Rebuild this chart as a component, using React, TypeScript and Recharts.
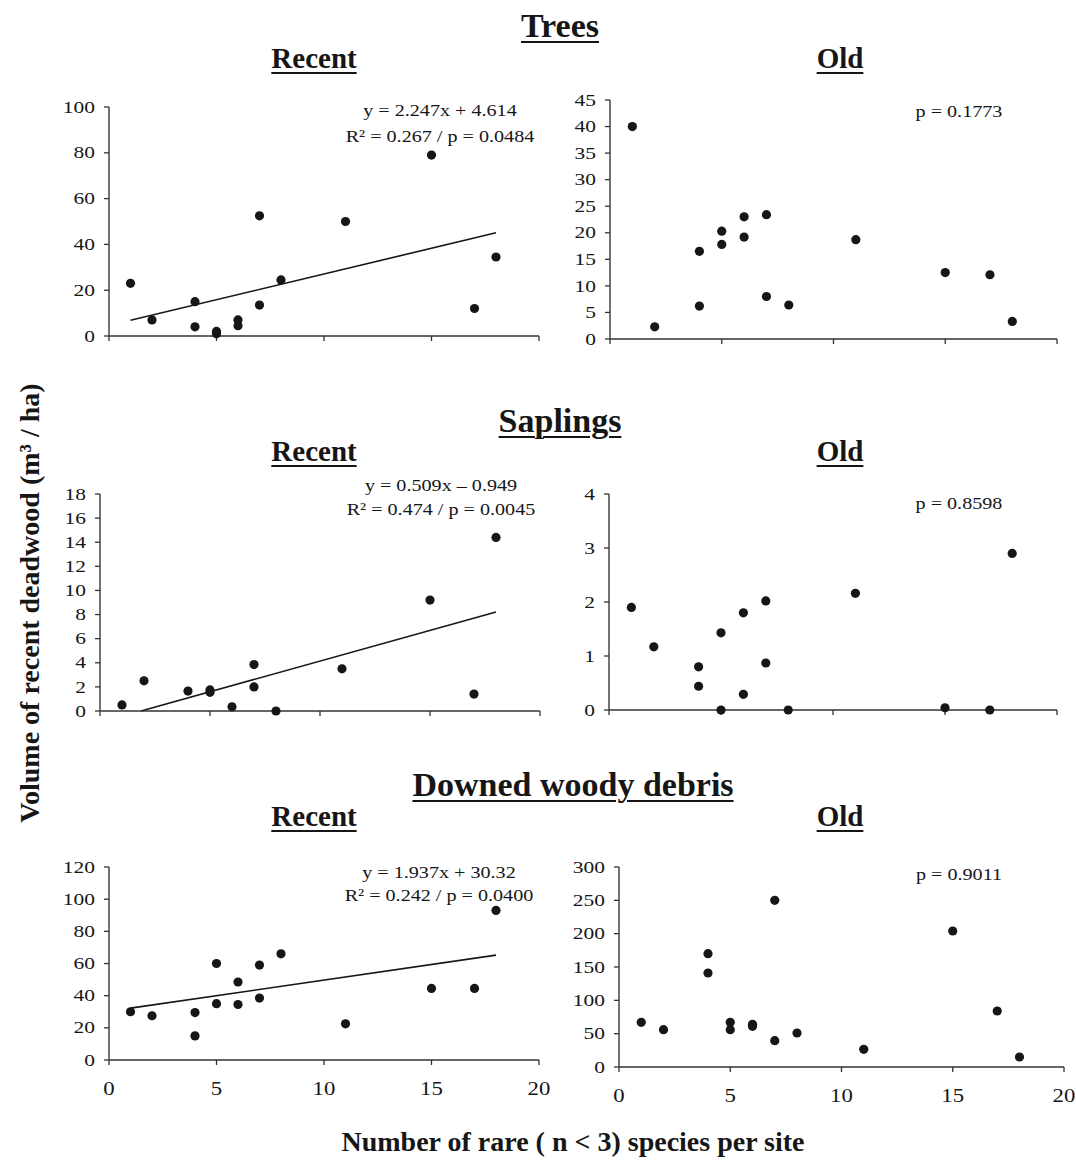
import { ScatterChart, Scatter, XAxis, YAxis, ReferenceLine } from "recharts";

const SERIF = '"Liberation Serif", "Times New Roman", serif';
const INK = "#161616";

// number of rare species (n < 3) per site, shared by most panels
const rareSpecies = [1, 2, 4, 4, 5, 5, 6, 6, 7, 7, 8, 11, 15, 17, 18];
const saplingsRecentX = [1, 2, 4, 5, 5, 6, 7, 7, 8, 11, 15, 17, 18];

// volume of recent deadwood (m3 / ha)
const treesRecent = [23, 7, 15, 4, 2, 1, 7, 4.5, 52.5, 13.5, 24.5, 50, 79, 12, 34.5];
const treesOld = [40, 2.3, 16.5, 6.2, 20.3, 17.8, 23, 19.2, 23.4, 8, 6.4, 18.7, 12.5, 12.1, 3.3];
const saplingsRecent = [0.5, 2.5, 1.65, 1.75, 1.55, 0.35, 3.85, 2, 0, 3.5, 9.2, 1.4, 14.4];
const saplingsOld = [1.9, 1.17, 0.8, 0.44, 1.43, 0, 1.8, 0.29, 2.02, 0.87, 0, 2.16, 0.04, 0, 2.9];
const debrisRecent = [30, 27.5, 29.5, 15, 60, 35, 48.5, 34.5, 59, 38.5, 66, 22.5, 44.5, 44.5, 93];
const debrisOld = [67, 56, 170, 141, 67, 56, 64, 61, 250, 39.5, 51, 26.5, 204, 84, 15];

// axis ticks
const xTicks = [0, 5, 10, 15, 20];
const treesRecentTicks = [0, 20, 40, 60, 80, 100];
const treesOldTicks = [0, 5, 10, 15, 20, 25, 30, 35, 40, 45];
const saplingsRecentTicks = [0, 2, 4, 6, 8, 10, 12, 14, 16, 18];
const saplingsOldTicks = [0, 1, 2, 3, 4];
const debrisRecentTicks = [0, 20, 40, 60, 80, 100, 120];
const debrisOldTicks = [0, 50, 100, 150, 200, 250, 300];

// regression fits (recent stands)
const treesFit = { slope: 2.247, intercept: 4.614 };
const saplingsFit = { slope: 0.509, intercept: -0.949 };
const debrisFit = { slope: 1.937, intercept: 30.32 };

const treesRecentNote = ["y = 2.247x + 4.614", "R² = 0.267 / p = 0.0484"];
const saplingsRecentNote = ["y = 0.509x – 0.949", "R² = 0.474 / p = 0.0045"];
const debrisRecentNote = ["y = 1.937x + 30.32", "R² = 0.242 / p = 0.0400"];

const YTick = ({ x, y, payload }: any) => (
  <g transform={`translate(${x},${y})`}>
    <text
      textAnchor="end"
      dy="0.34em"
      fontSize={16.5}
      fontFamily={SERIF}
      fill={INK}
      transform="scale(1.3,1)"
    >
      {payload.value}
    </text>
  </g>
);

const XTick = ({ x, y, payload }: any) => (
  <g transform={`translate(${x},${y})`}>
    <text
      textAnchor="middle"
      dy="0.7em"
      fontSize={19}
      fontFamily={SERIF}
      fill={INK}
      transform="scale(1.2,1)"
    >
      {payload.value}
    </text>
  </g>
);

const NoTick = () => <g />;

const Dot = (p: any) => <circle cx={p.cx} cy={p.cy} r={4.6} fill={INK} />;

interface Box {
  left: number;
  top: number;
  width: number;
  height: number;
}

interface PanelProps {
  xs: number[];
  ys: number[];
  yTicks: number[];
  box: Box;
  xLabels?: boolean;
  fit?: { slope: number; intercept: number };
}

function Panel({ xs, ys, yTicks, box, xLabels = false, fit }: PanelProps) {
  const data = xs.map((x, i) => ({ x, y: ys[i] }));
  const yMax = yTicks[yTicks.length - 1];
  let seg: { x: number; y: number }[] | null = null;
  if (fit) {
    const lo = Math.max(Math.min(...xs), -fit.intercept / fit.slope);
    const hi = Math.max(...xs);
    seg = [
      { x: lo, y: fit.slope * lo + fit.intercept },
      { x: hi, y: fit.slope * hi + fit.intercept },
    ];
  }
  const axisW = 70;
  return (
    <div style={{ position: "absolute", left: box.left - axisW, top: box.top - 10 }}>
      <ScatterChart
        width={box.width + axisW + 30}
        height={box.height + 10 + 40}
        margin={{ top: 10, right: 30, left: 0, bottom: 0 }}
      >
        <XAxis
          type="number"
          dataKey="x"
          domain={[0, 20]}
          ticks={xTicks}
          interval={0}
          height={40}
          axisLine={{ stroke: "#333", strokeWidth: 1.5 }}
          tickLine={{ stroke: "#333", strokeWidth: 1.3 }}
          tickSize={5}
          tickMargin={xLabels ? 17 : 0}
          tick={xLabels ? <XTick /> : <NoTick />}
        />
        <YAxis
          type="number"
          dataKey="y"
          domain={[0, yMax]}
          ticks={yTicks}
          interval={0}
          width={axisW}
          axisLine={{ stroke: "#444", strokeWidth: 1.5 }}
          tickLine={{ stroke: "#333", strokeWidth: 1.3 }}
          tickSize={5}
          tickMargin={9}
          tick={<YTick />}
        />
        {seg && (
          <ReferenceLine segment={seg} stroke={INK} strokeWidth={1.6} />
        )}
        <Scatter data={data} shape={<Dot />} isAnimationActive={false} />
      </ScatterChart>
    </div>
  );
}

function Title({ text, cx, top, size }: { text: string; cx: number; top: number; size: number }) {
  return (
    <div
      style={{
        position: "absolute",
        left: cx - 250,
        width: 500,
        top,
        textAlign: "center",
        fontFamily: SERIF,
        fontWeight: "bold",
        fontSize: size,
        lineHeight: `${size}px`,
        color: INK,
        textDecoration: "underline",
        textDecorationThickness: "2px",
        textUnderlineOffset: "4px",
      }}
    >
      {text}
    </div>
  );
}

function Note({ lines, cx, baselines }: { lines: string[]; cx: number; baselines: number[] }) {
  return (
    <>
      {lines.map((t, i) => (
        <div
          key={i}
          style={{
            position: "absolute",
            left: cx - 150,
            width: 300,
            top: baselines[i] - 14.7,
            textAlign: "center",
            fontFamily: SERIF,
            fontSize: 17.5,
            lineHeight: "17.5px",
            color: INK,
            transform: "scaleX(1.15)",
            whiteSpace: "nowrap",
          }}
        >
          {t}
        </div>
      ))}
    </>
  );
}

export default function App() {
  return (
    <div
      style={{
        position: "absolute",
        left: 0,
        top: 0,
        width: 1076,
        height: 1161,
        background: "#fff",
        overflow: "hidden",
      }}
    >
      <Title text="Trees" cx={560} top={8.5} size={34} />
      <Title text="Recent" cx={314} top={44} size={29} />
      <Title text="Old" cx={840} top={44} size={29} />
      <Title text="Saplings" cx={560} top={404} size={34} />
      <Title text="Recent" cx={314} top={437} size={29} />
      <Title text="Old" cx={840} top={437} size={29} />
      <Title text="Downed woody debris" cx={573} top={768} size={34} />
      <Title text="Recent" cx={314} top={802} size={29} />
      <Title text="Old" cx={840} top={802} size={29} />

      <Panel
        xs={rareSpecies}
        ys={treesRecent}
        yTicks={treesRecentTicks}
        box={{ left: 109, top: 107, width: 430, height: 229 }}
        fit={treesFit}
      />
      <Panel
        xs={rareSpecies}
        ys={treesOld}
        yTicks={treesOldTicks}
        box={{ left: 610, top: 100, width: 447, height: 239 }}
      />
      <Panel
        xs={saplingsRecentX}
        ys={saplingsRecent}
        yTicks={saplingsRecentTicks}
        box={{ left: 100, top: 494, width: 440, height: 217 }}
        fit={saplingsFit}
      />
      <Panel
        xs={rareSpecies}
        ys={saplingsOld}
        yTicks={saplingsOldTicks}
        box={{ left: 609, top: 494, width: 448, height: 216 }}
      />
      <Panel
        xs={rareSpecies}
        ys={debrisRecent}
        yTicks={debrisRecentTicks}
        box={{ left: 109, top: 867, width: 430, height: 193 }}
        fit={debrisFit}
        xLabels
      />
      <Panel
        xs={rareSpecies}
        ys={debrisOld}
        yTicks={debrisOldTicks}
        box={{ left: 619, top: 867, width: 445, height: 200 }}
        xLabels
      />

      <Note lines={treesRecentNote} cx={440} baselines={[117, 143]} />
      <Note lines={["p = 0.1773"]} cx={959} baselines={[118]} />
      <Note lines={saplingsRecentNote} cx={441} baselines={[492, 516]} />
      <Note lines={["p = 0.8598"]} cx={959} baselines={[510]} />
      <Note lines={debrisRecentNote} cx={439} baselines={[879, 902]} />
      <Note lines={["p = 0.9011"]} cx={959} baselines={[881]} />

      <div
        style={{
          position: "absolute",
          left: 30 - 260,
          top: 603 - 17,
          width: 520,
          height: 34,
          lineHeight: "34px",
          textAlign: "center",
          fontFamily: SERIF,
          fontWeight: "bold",
          fontSize: 28,
          color: INK,
          transform: "rotate(-90deg)",
          whiteSpace: "nowrap",
        }}
      >
        Volume of recent deadwood (m³ / ha)
      </div>
      <div
        style={{
          position: "absolute",
          left: 573 - 300,
          width: 600,
          top: 1128,
          textAlign: "center",
          fontFamily: SERIF,
          fontWeight: "bold",
          fontSize: 28,
          lineHeight: "28px",
          color: INK,
          whiteSpace: "nowrap",
        }}
      >
        Number of rare ( n &lt; 3) species per site
      </div>
    </div>
  );
}
